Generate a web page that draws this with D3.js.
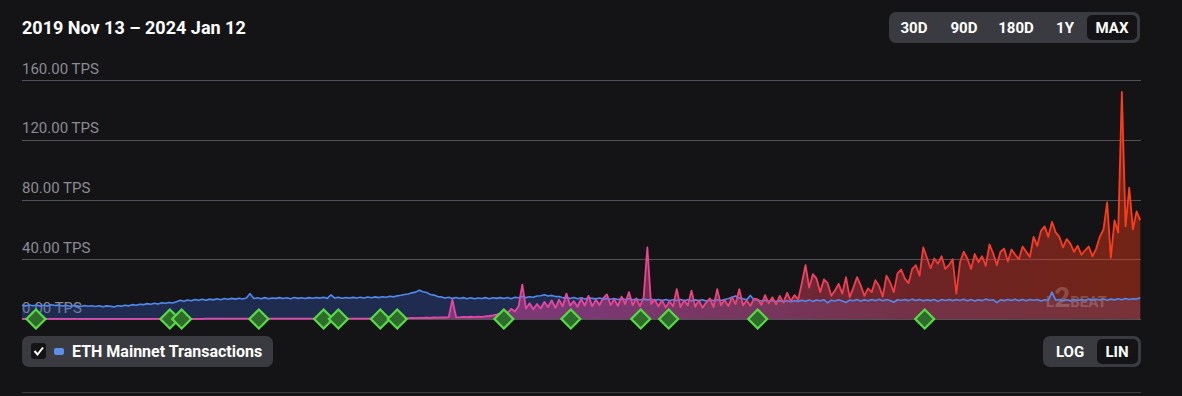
<!DOCTYPE html>
<html>
<head>
<meta charset="utf-8">
<script src="https://cdn.jsdelivr.net/npm/d3@7"></script>
<style>
    html, body { margin: 0; padding: 0; background: #141417; overflow: hidden; }
    svg { display: block; font-family: Roboto, "Noto Sans", sans-serif; }
</style>
</head>
<body>
<script>
// range of the chart and sampling of the series (one value every 5 days)
const startDate = "2019-11-13", endDate = "2024-01-12", stepDays = 5;
const titleText = "2019 Nov 13 \u2013 2024 Jan 12";
const yTicks = [0, 40, 80, 120, 160];
const rangeButtons = ["30D", "90D", "180D", "1Y", "MAX"];
const scaleButtons = ["LOG", "LIN"];
const legendLabel = "ETH Mainnet Transactions";

const milestoneDates = ["2019-12-02", "2020-06-01", "2020-06-17", "2020-09-30", "2020-12-27",
    "2021-01-16", "2021-03-14", "2021-04-06", "2021-08-29", "2021-11-28", "2022-03-03",
    "2022-04-10", "2022-08-09", "2023-03-24"];

// ETH mainnet TPS
const ethTps = [
    9.2, 8.8, 9.4, 8.9, 9.3, 8.7, 9.2, 8.8, 9.5, 9.0,
    9.3, 8.7, 9.2, 8.5, 9.0, 8.8, 8.4, 9.0, 8.5, 8.9,
    8.4, 8.9, 8.2, 8.8, 8.5, 8.1, 8.9, 8.6, 9.2, 8.8,
    9.6, 9.2, 9.9, 9.6, 10.3, 9.9, 10.6, 10.1, 10.9, 10.5,
    11.1, 10.7, 11.6, 12.5, 11.9, 12.7, 12.2, 13.0, 12.5, 13.2,
    12.6, 13.3, 12.8, 13.6, 12.9, 13.7, 13.2, 13.8, 13.3, 13.9,
    13.4, 14.1, 17.0, 13.7, 14.2, 13.6, 14.3, 13.6, 14.1, 13.8,
    14.3, 13.7, 14.2, 13.6, 14.4, 13.8, 14.2, 13.7, 14.3, 13.9,
    14.4, 14.0, 14.5, 13.8, 16.2, 14.0, 14.5, 13.9, 14.4, 14.0,
    14.5, 14.0, 14.6, 14.1, 14.7, 14.2, 14.8, 14.3, 14.9, 14.6,
    15.2, 14.8, 15.5, 15.9, 16.4, 16.7, 17.5, 18.0, 19.3, 18.3,
    17.8, 16.4, 16.0, 15.0, 14.8, 14.0, 14.6, 13.8, 14.4, 13.7,
    14.3, 13.6, 14.2, 13.5, 14.1, 13.7, 14.3, 13.6, 14.2, 13.8,
    14.3, 13.7, 14.4, 13.6, 14.5, 14.2, 15.0, 14.3, 14.9, 14.6,
    15.4, 15.6, 16.2, 15.4, 15.8, 15.1, 15.0, 14.2, 14.4, 13.7,
    14.4, 13.6, 14.2, 13.4, 14.1, 13.8, 13.5, 14.0, 13.3, 13.8,
    13.2, 13.7, 13.0, 13.6, 13.0, 13.5, 12.8, 13.4, 12.7, 13.3,
    12.8, 13.2, 12.5, 13.1, 12.4, 13.0, 12.3, 12.9, 12.4, 13.0,
    12.3, 12.9, 12.2, 12.8, 12.3, 12.9, 12.1, 12.8, 12.3, 12.9,
    12.4, 13.1, 13.6, 14.6, 15.4, 14.0, 13.5, 12.8, 15.8, 12.9,
    12.7, 12.0, 12.6, 11.8, 12.4, 11.7, 12.3, 11.6, 12.2, 11.5,
    12.2, 11.8, 12.5, 11.9, 12.8, 11.8, 12.7, 12.2, 12.9, 10.8,
    12.6, 12.1, 12.9, 12.0, 11.0, 12.7, 12.2, 13.0, 12.1, 12.8,
    12.2, 13.0, 12.3, 13.2, 12.2, 13.0, 12.4, 11.2, 12.9, 12.4,
    13.1, 12.3, 13.3, 12.4, 13.1, 12.2, 12.9, 12.3, 13.0, 11.8,
    13.1, 12.4, 13.0, 12.3, 13.1, 12.4, 13.2, 12.2, 13.0, 12.1,
    12.9, 12.3, 13.3, 12.5, 12.9, 11.0, 12.8, 12.3, 13.0, 12.4,
    13.2, 12.3, 13.0, 12.2, 13.0, 12.6, 13.1, 12.1, 12.9, 12.5,
    18.0, 12.6, 13.0, 12.3, 12.9, 12.2, 13.1, 12.4, 13.0, 12.6,
    13.3, 12.5, 13.2, 12.7, 13.4, 12.6, 13.3, 12.8, 13.5, 12.9,
    13.7, 13.0, 13.6, 13.4, 14.2
];

// Layer 2 TPS
const l2Tps = [
    0.1, 0.1, 0.1, 0.1, 0.1, 0.1, 0.1, 0.1, 0.1, 0.1,
    0.1, 0.1, 0.1, 0.1, 0.1, 0.1, 0.1, 0.1, 0.1, 0.1,
    0.1, 0.1, 0.1, 0.1, 0.1, 0.1, 0.1, 0.1, 0.1, 0.1,
    0.1, 0.1, 0.1, 0.1, 0.1, 0.1, 0.1, 0.1, 0.1, 0.1,
    0.1, 0.1, 0.1, 0.1, 0.1, 0.1, 0.1, 0.1, 0.1, 0.1,
    0.2, 0.2, 0.2, 0.2, 0.2, 0.2, 0.2, 0.2, 0.2, 0.2,
    0.2, 0.2, 0.2, 0.2, 0.2, 0.2, 0.2, 0.2, 0.2, 0.2,
    0.2, 0.2, 0.2, 0.2, 0.2, 0.3, 0.3, 0.3, 0.3, 0.3,
    0.3, 0.3, 0.3, 0.3, 0.3, 0.3, 0.3, 0.3, 0.3, 0.3,
    0.3, 0.3, 0.3, 0.3, 0.3, 0.4, 0.4, 0.4, 0.4, 0.4,
    0.4, 3.0, 6.0, 2.0, 0.6, 0.5, 0.7, 0.6, 0.8, 0.7,
    0.9, 0.8, 1.0, 0.9, 1.1, 1.0, 1.2, 13.0, 1.3, 1.1,
    1.4, 1.2, 1.5, 1.3, 1.6, 1.4, 1.8, 2.0, 2.4, 3.0,
    3.8, 5.5, 4.2, 6.8, 5.0, 8.5, 23.0, 7.0, 10.5, 6.5,
    10.0, 7.0, 11.5, 8.0, 12.5, 7.5, 13.0, 8.5, 17.0, 9.0,
    12.0, 8.2, 13.5, 9.0, 15.5, 8.6, 12.8, 9.4, 14.0, 16.5,
    9.4, 13.2, 8.8, 15.0, 10.0, 18.0, 9.2, 13.8, 8.6, 14.5,
    48.0, 10.0, 13.0, 8.5, 12.5, 7.8, 11.8, 8.5, 20.0, 8.0,
    12.5, 9.0, 19.0, 8.2, 12.5, 7.6, 11.0, 13.8, 8.0, 20.0,
    9.2, 12.8, 8.6, 14.5, 10.0, 20.0, 9.2, 12.4, 8.8, 13.6,
    13.2, 9.5, 16.0, 10.5, 14.5, 9.8, 15.5, 11.0, 17.5, 12.0,
    16.0, 13.0, 24.0, 36.0, 21.0, 30.0, 27.0, 18.0, 26.5, 24.0,
    15.5, 19.0, 23.5, 17.0, 28.0, 14.5, 21.0, 28.0, 22.5, 15.5,
    20.5, 18.0, 26.0, 22.0, 15.0, 29.0, 24.5, 18.0, 30.5, 33.0,
    27.0, 24.0, 33.5, 36.0, 29.0, 48.0, 41.0, 34.0, 40.5, 37.0,
    42.0, 33.5, 36.0, 40.0, 17.0, 38.0, 45.0, 40.5, 33.5, 43.5,
    38.0, 42.0, 35.5, 50.0, 44.0, 36.0, 45.0, 47.0, 38.5, 46.5,
    43.0, 40.0, 48.5, 45.0, 41.5, 55.0, 49.0, 59.0, 62.0, 55.0,
    65.0, 58.0, 55.0, 48.0, 53.5, 50.5, 45.0, 49.0, 43.0, 46.0,
    48.5, 42.0, 47.0, 55.0, 60.0, 78.0, 41.0, 66.0, 58.0, 152.0,
    62.0, 88.0, 60.0, 72.0, 66.0
];

document.addEventListener("DOMContentLoaded", function () {

    const width = 1182, height = 396,
        plot = {left: 22, right: 1141, top: 80, bottom: 319};

    const parse = d3.utcParse("%Y-%m-%d"),
        t0 = parse(startDate), t1 = parse(endDate);

    let atIndex = function (i) {
        return d3.utcDay.offset(t0, i * stepDays);
    };

    const eth = ethTps.map((v, i) => ({date: atIndex(i), value: v})),
        l2 = l2Tps.map((v, i) => ({date: atIndex(i), value: v}));

    const x = d3.scaleUtc().domain([t0, t1]).range([plot.left, plot.right]),
        y = d3.scaleLinear().domain([0, 160]).range([plot.bottom, plot.top]);

    let svg = d3.select("body")
        .append("svg")
        .attr("width", width)
        .attr("height", height);

    svg.append("rect")
        .attr("width", width)
        .attr("height", height)
        .attr("fill", "#141417");

    // gradients for the L2 series (pink to red along the time axis)
    let defs = svg.append("defs");
    let gradStops = [
        {o: 0, c: "#dc4ab8", a: 0.48}, {o: 0.5, c: "#e8479f", a: 0.46},
        {o: 0.68, c: "#f0436a", a: 0.42}, {o: 0.8, c: "#f33a3a", a: 0.4},
        {o: 1, c: "#ff3c14", a: 0.4}
    ];
    let addGradient = function (id, isFill) {
        let g = defs.append("linearGradient")
            .attr("id", id)
            .attr("gradientUnits", "userSpaceOnUse")
            .attr("x1", plot.left).attr("x2", plot.right)
            .attr("y1", 0).attr("y2", 0);
        gradStops.forEach(s => {
            g.append("stop")
                .attr("offset", s.o)
                .attr("stop-color", s.c)
                .attr("stop-opacity", isFill ? s.a : 1);
        });
    };
    addGradient("l2Stroke", false);
    addGradient("l2Fill", true);

    // title
    svg.append("text")
        .attr("x", 22).attr("y", 34)
        .attr("fill", "#ffffff")
        .attr("font-size", 18)
        .attr("font-weight", 700)
        .text(titleText);

    // range buttons
    let rangeG = svg.append("g");
    rangeG.append("rect")
        .attr("x", 889).attr("y", 12).attr("width", 251).attr("height", 31)
        .attr("rx", 7).attr("fill", "#3a3b40");
    rangeG.append("rect")
        .attr("x", 1087).attr("y", 15).attr("width", 50).attr("height", 25)
        .attr("rx", 5).attr("fill", "#141417");
    const rangeCenters = [914, 964, 1016, 1065, 1112];
    rangeButtons.forEach((b, i) => {
        rangeG.append("text")
            .attr("x", rangeCenters[i]).attr("y", 33)
            .attr("text-anchor", "middle")
            .attr("fill", "#ffffff")
            .attr("font-size", 15)
            .attr("font-weight", 700)
            .text(b);
    });

    // grid + tick labels
    let grid = svg.append("g");
    yTicks.forEach(v => {
        grid.append("line")
            .attr("x1", plot.left).attr("x2", plot.right)
            .attr("y1", Math.round(y(v)) + 0.5).attr("y2", Math.round(y(v)) + 0.5)
            .attr("stroke", "#505056")
            .attr("stroke-width", 1);
        grid.append("text")
            .attr("x", plot.left).attr("y", y(v) - 6.5)
            .attr("fill", "#8b8b92")
            .attr("font-size", 15)
            .text(d3.format(".2f")(v) + " TPS");
    });

    let area = d3.area()
        .x(d => x(d.date))
        .y0(y(0))
        .y1(d => y(d.value))
        .curve(d3.curveLinear);

    let line = d3.line()
        .x(d => x(d.date))
        .y(d => y(d.value))
        .curve(d3.curveLinear);

    svg.append("path")
        .attr("d", area(eth))
        .attr("fill", "rgba(55,95,200,0.32)");

    svg.append("path")
        .attr("d", area(l2))
        .attr("fill", "url(#l2Fill)");

    // watermark
    let wm = svg.append("text")
        .attr("x", 1046).attr("y", 307)
        .attr("fill", "#ffffff")
        .attr("fill-opacity", 0.2)
        .attr("font-weight", 700)
        .attr("font-size", 15);
    wm.append("tspan").text("L");
    wm.append("tspan").attr("font-size", 28).text("2");
    wm.append("tspan").text("BEAT");

    svg.append("path")
        .attr("d", line(eth))
        .attr("fill", "none")
        .attr("stroke", "#5289ee")
        .attr("stroke-width", 1.6)
        .attr("stroke-linejoin", "round");

    svg.append("path")
        .attr("d", line(l2))
        .attr("fill", "none")
        .attr("stroke", "url(#l2Stroke)")
        .attr("stroke-width", 1.8)
        .attr("stroke-linejoin", "round");

    // milestones
    let diamond = d3.symbol().type(d3.symbolSquare).size(180);
    svg.append("g")
        .selectAll("path")
        .data(milestoneDates)
        .join("path")
        .attr("d", diamond)
        .attr("transform", d => "translate(" + x(parse(d)) + "," + y(0) + ") rotate(45)")
        .attr("fill", "#2f6b2a")
        .attr("stroke", "#56dc44")
        .attr("stroke-width", 2.2);

    // legend
    let legend = svg.append("g");
    legend.append("rect")
        .attr("x", 22).attr("y", 336).attr("width", 251).attr("height", 31)
        .attr("rx", 7).attr("fill", "#3a3b40");
    legend.append("rect")
        .attr("x", 31).attr("y", 343).attr("width", 15).attr("height", 16)
        .attr("rx", 3).attr("fill", "#141417");
    legend.append("path")
        .attr("d", "M34.5,351 L37.5,354.5 L43,347.5")
        .attr("fill", "none")
        .attr("stroke", "#ffffff")
        .attr("stroke-width", 2);
    legend.append("rect")
        .attr("x", 54).attr("y", 348).attr("width", 10).attr("height", 7)
        .attr("rx", 2).attr("fill", "#5b8fe9");
    legend.append("text")
        .attr("x", 72).attr("y", 357)
        .attr("fill", "#ffffff")
        .attr("font-size", 16)
        .attr("font-weight", 700)
        .text(legendLabel);

    // log / lin switch
    let sw = svg.append("g");
    sw.append("rect")
        .attr("x", 1043).attr("y", 336).attr("width", 98).attr("height", 31)
        .attr("rx", 7).attr("fill", "#3a3b40");
    sw.append("rect")
        .attr("x", 1097).attr("y", 339).attr("width", 41).attr("height", 25)
        .attr("rx", 5).attr("fill", "#141417");
    const switchCenters = [1070, 1117];
    scaleButtons.forEach((b, i) => {
        sw.append("text")
            .attr("x", switchCenters[i]).attr("y", 357)
            .attr("text-anchor", "middle")
            .attr("fill", "#ffffff")
            .attr("font-size", 15)
            .attr("font-weight", 700)
            .text(b);
    });

    svg.append("line")
        .attr("x1", plot.left).attr("x2", plot.right)
        .attr("y1", 392.5).attr("y2", 392.5)
        .attr("stroke", "#3a3a3f");

});
</script>
</body>
</html>
